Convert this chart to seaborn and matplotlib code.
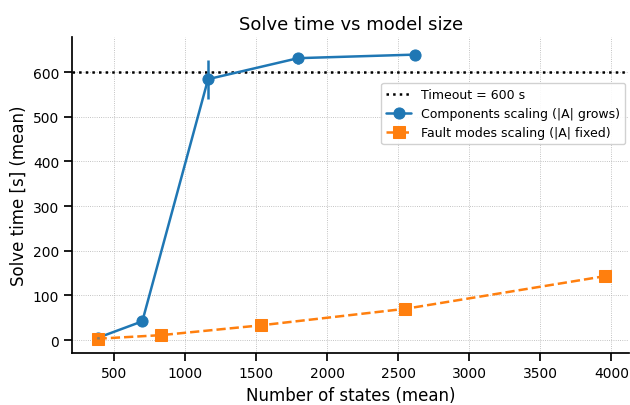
import matplotlib
matplotlib.use('Agg')
import matplotlib.pyplot as plt
import pandas as pd
import numpy as np
import seaborn as sns

# components scaling (|A| grows)
comp_states = [383, 697, 1160, 1794, 2620]
comp_time = [5, 42, 584, 631, 639]
comp_err = [3, 5, 44, 12, 0]

# fault modes scaling (|A| fixed)
fault_states = [382, 828, 1531, 2549, 3953]
fault_time = [3, 11, 33, 70, 143]
fault_err = [1, 2, 3, 4, 5]

timeout = 600

sns.set_theme(style='ticks', rc={'text.color': 'black', 'axes.labelcolor': 'black',
                                 'xtick.color': 'black', 'ytick.color': 'black',
                                 'axes.edgecolor': 'black'})
plt.rcParams['font.family'] = ['DejaVu Sans']

fig = plt.figure(figsize=(6.3, 4.06), dpi=100)
ax = fig.add_axes([0.115, 0.128, 0.883, 0.778])

ax.axhline(timeout, color='black', ls=':', lw=1.8, label='Timeout = 600 s', zorder=1)

df_c = pd.DataFrame({'states': comp_states, 'time': comp_time})
df_f = pd.DataFrame({'states': fault_states, 'time': fault_time})

sns.lineplot(data=df_c, x='states', y='time', marker='o', markersize=8, lw=1.8,
             color='#1f77b4', markeredgecolor='#1f77b4', label='Components scaling (|A| grows)', ax=ax)
sns.lineplot(data=df_f, x='states', y='time', marker='s', markersize=8, lw=1.8, ls='--',
             color='#ff7f0e', markeredgecolor='#ff7f0e', label='Fault modes scaling (|A| fixed)', ax=ax)
ax.errorbar(comp_states, comp_time, yerr=comp_err, fmt='none', ecolor='#1f77b4', elinewidth=1.8)
ax.errorbar(fault_states, fault_time, yerr=fault_err, fmt='none', ecolor='#ff7f0e', elinewidth=1.8)

ax.set_xlim(205, 4122)
ax.set_ylim(-29, 678)
ax.set_xticks(np.arange(500, 4001, 500))
ax.set_yticks(np.arange(0, 601, 100))
ax.grid(True, ls=':', lw=0.6, color='#b0b0b0')
ax.tick_params(labelsize=10)
ax.set_xlabel('Number of states (mean)', fontsize=12)
ax.set_ylabel('Solve time [s] (mean)', fontsize=12)
ax.set_title('Solve time vs model size', fontsize=13)
sns.despine(ax=ax)
ax.legend(loc='upper right', bbox_to_anchor=(1.005, 0.875), fontsize=9, framealpha=0.9)

fig.savefig('out.png', dpi=100)
